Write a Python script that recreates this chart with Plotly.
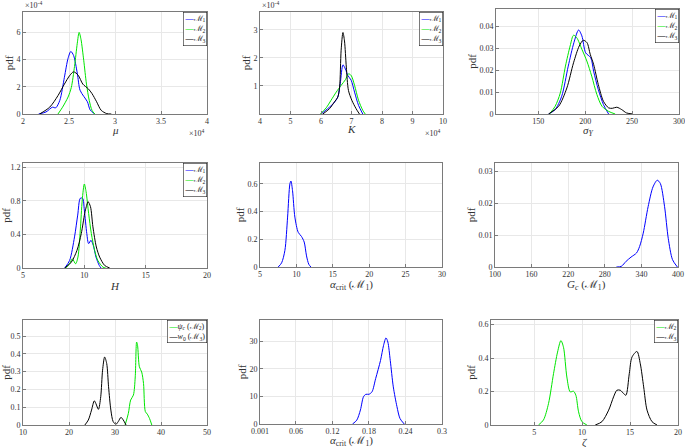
import plotly.graph_objects as go
from plotly.subplots import make_subplots

W, H = 685, 447
BLUE, GREEN, BLACK = "#0000ff", "#00e600", "#000000"
FONT = "Liberation Serif"

# ---------------- data ----------------
# Plot 1: mu (x in 1e4, y in 1e-4)
mu_m1_x = [2.17, 2.25, 2.32, 2.355, 2.40, 2.45, 2.49, 2.52, 2.55, 2.59, 2.62, 2.66, 2.70, 2.73, 2.78]
mu_m1_y = [0, 0.15, 0.5, 0.45, 1.0, 2.7, 4.1, 4.6, 4.3, 3.0, 1.75, 1.3, 0.9, 0.3, 0]
mu_m2_x = [2.38, 2.43, 2.49, 2.525, 2.56, 2.59, 2.61, 2.63, 2.66, 2.69, 2.72, 2.75, 2.78]
mu_m2_y = [0, 0.5, 1.25, 1.95, 3.5, 5.2, 6.0, 5.5, 3.95, 2.2, 1.0, 0.27, 0]
mu_m3_x = [2.18, 2.29, 2.38, 2.45, 2.51, 2.55, 2.60, 2.65, 2.71, 2.75, 2.80, 2.85, 2.91, 2.96]
mu_m3_y = [0, 0.5, 1.35, 2.2, 2.85, 3.1, 2.85, 2.2, 1.85, 1.5, 0.9, 0.27, 0.03, 0]

# Plot 2: K (x in 1e4, y in 1e-4)
k_m1_x = [6.0, 6.22, 6.42, 6.55, 6.63, 6.72, 6.80, 6.88, 6.99, 7.10, 7.23, 7.37]
k_m1_y = [0, 0.19, 0.39, 0.6, 1.08, 1.75, 1.6, 1.37, 1.2, 0.78, 0.31, 0]
k_m2_x = [5.98, 6.17, 6.33, 6.5, 6.66, 6.8, 6.9, 6.99, 7.1, 7.23, 7.37, 7.45]
k_m2_y = [0, 0.22, 0.49, 0.78, 1.02, 1.22, 1.43, 1.37, 1.02, 0.49, 0.13, 0]
k_m3_x = [6.06, 6.28, 6.44, 6.55, 6.61, 6.66, 6.72, 6.77, 6.83, 6.90, 7.01, 7.15, 7.26]
k_m3_y = [0, 0.19, 0.43, 0.6, 0.96, 2.27, 2.9, 2.6, 1.67, 0.84, 0.49, 0.19, 0]

# Plot 3: sigma_Y
sy_m1_x = [161, 168, 175, 182, 188, 193, 196.5, 200.5, 206, 209, 214, 219.5, 225]
sy_m1_y = [0, 0.002, 0.0081, 0.0219, 0.0326, 0.0384, 0.0357, 0.028, 0.0257, 0.0196, 0.0112, 0.0043, 0]
sy_m2_x = [162, 168, 173.5, 179, 184, 187.6, 191, 196.5, 201.8, 207, 212.5, 218, 225, 232]
sy_m2_y = [0, 0.0035, 0.0096, 0.0219, 0.0311, 0.036, 0.0349, 0.0296, 0.0242, 0.0173, 0.0089, 0.0035, 0.0012, 0]
sy_m3_x = [161, 171.7, 180.5, 187.6, 193.7, 198, 202, 205.4, 209, 214, 219.5, 225, 229, 233.7, 239, 244, 251]
sy_m3_y = [0, 0.0035, 0.0119, 0.0234, 0.0311, 0.0337, 0.0326, 0.0273, 0.0227, 0.0135, 0.0058, 0.0028, 0.0026, 0.0031, 0.002, 0.0005, 0]

# Plot 4: H
h_m1_x = [8.4, 8.8, 9.2, 9.46, 9.67, 9.86, 10.0, 10.2, 10.35, 10.54, 10.73, 10.95, 11.22, 11.36]
h_m1_y = [0, 0.09, 0.37, 0.63, 0.83, 0.83, 0.69, 0.41, 0.29, 0.33, 0.27, 0.13, 0.03, 0]
h_m2_x = [8.48, 8.8, 9.02, 9.29, 9.48, 9.67, 9.83, 10.0, 10.14, 10.35, 10.57, 10.84, 11.1, 11.52, 11.74]
h_m2_y = [0, 0.05, 0.11, 0.05, 0.13, 0.45, 0.81, 1.0, 0.91, 0.65, 0.41, 0.21, 0.09, 0.01, 0]
h_m3_x = [8.4, 8.94, 9.4, 9.75, 10.03, 10.16, 10.3, 10.5, 10.7, 10.98, 11.25, 11.66, 12.07]
h_m3_y = [0, 0.07, 0.21, 0.41, 0.65, 0.73, 0.79, 0.73, 0.49, 0.25, 0.13, 0.03, 0]

# Plot 5: alpha_crit (M1)
ac_x = [7.5, 7.97, 8.42, 8.79, 9.11, 9.25, 9.47, 9.79, 10.25, 10.7, 11.07, 11.39, 11.7, 11.99]
ac_y = [0, 0.03, 0.12, 0.36, 0.6, 0.62, 0.55, 0.36, 0.25, 0.22, 0.18, 0.08, 0.02, 0]

# Plot 6: G_c (M1)
gc_x = [299, 307, 315, 323, 332, 337, 343, 351, 359, 366, 371, 378, 384, 391, 399]
gc_y = [0, 0.0002, 0.0018, 0.0031, 0.0044, 0.0064, 0.0106, 0.0189, 0.0251, 0.0272, 0.0262, 0.0189, 0.009, 0.0023, 0]

# Plot 7: psi_c (M2), w0 (M3)
psi_x = [32.2, 32.9, 33.4, 34.0, 34.4, 34.7, 34.9, 35.3, 35.8, 36.2, 36.6, 37.0, 37.5, 38.0]
psi_y = [0, 0.065, 0.14, 0.168, 0.27, 0.466, 0.448, 0.327, 0.298, 0.233, 0.075, 0.062, 0.037, 0]
w0_x = [23.45, 24.2, 24.9, 25.5, 25.85, 26.4, 26.9, 27.3, 27.75, 28.2, 28.6, 29.1, 29.6, 30.2, 30.7, 31.3, 31.8, 32.4]
w0_y = [0, 0.028, 0.084, 0.136, 0.12, 0.088, 0.159, 0.308, 0.382, 0.345, 0.215, 0.084, 0.019, 0.004, 0.019, 0.043, 0.028, 0]

# Plot 8: alpha_crit (M1), second
ac2_x = [0.153, 0.160, 0.166, 0.171, 0.175, 0.180, 0.185, 0.191, 0.199, 0.204, 0.208, 0.211, 0.215, 0.220, 0.226, 0.231, 0.238]
ac2_y = [0, 1.4, 5.1, 9.9, 10.8, 10.8, 11.7, 16.5, 23.1, 28.6, 31.3, 29.8, 23.1, 13.5, 6.3, 2.0, 0]

# Plot 9: zeta
z_m2_x = [5.45, 5.97, 6.5, 7.02, 7.44, 7.79, 8.06, 8.41, 8.76, 9.1, 9.35, 9.63, 9.98, 10.5]
z_m2_y = [0, 0.03, 0.129, 0.307, 0.436, 0.505, 0.465, 0.287, 0.198, 0.202, 0.178, 0.079, 0.02, 0]
z_m3_x = [11.37, 12.07, 12.77, 13.28, 13.63, 13.98, 14.33, 14.57, 14.92, 15.2, 15.72, 16.07, 16.42, 16.77, 17.29, 17.81]
z_m3_y = [0, 0.02, 0.089, 0.168, 0.208, 0.208, 0.188, 0.178, 0.307, 0.406, 0.44, 0.366, 0.228, 0.089, 0.02, 0]

# ---------------- axis ticks ----------------
x1_ticks = [2, 2.5, 3, 3.5, 4]; y1_ticks = [0, 2, 4, 6]
x2_ticks = [4, 5, 6, 7, 8, 9, 10]; y2_ticks = [1, 2, 3]
x3_ticks = [150, 200, 250, 300]; y3_ticks = [0, 0.01, 0.02, 0.03, 0.04]
x4_ticks = [5, 10, 15, 20]; y4_ticks = [0, 0.4, 0.8, 1.2]
x5_ticks = [5, 10, 15, 20, 25, 30]; y5_ticks = [0, 0.2, 0.4, 0.6]
x6_ticks = [100, 160, 220, 280, 340, 400]; y6_ticks = [0, 0.01, 0.02, 0.03]
x7_ticks = [10, 20, 30, 40, 50]; y7_ticks = [0, 0.1, 0.2, 0.3, 0.4, 0.5]
x8_ticks = [0.001, 0.06, 0.12, 0.18, 0.24, 0.3]; y8_ticks = [0, 10, 20, 30]
x9_ticks = [5, 10, 15, 20]; y9_ticks = [0, 0.2, 0.4, 0.6]

M = "\u2133"
panels = [
    dict(traces=[(mu_m1_x, mu_m1_y, BLUE), (mu_m2_x, mu_m2_y, GREEN), (mu_m3_x, mu_m3_y, BLACK)],
         xr=[2, 4], yr=[0, 7.5], xt=x1_ticks, yt=y1_ticks, title="<i>\u03bc</i>", tshift=-16,
         box=(23, 207, 12, 114), legend=[(BLUE, M + "<sub>1</sub>"), (GREEN, M + "<sub>2</sub>"), (BLACK, M + "<sub>3</sub>")],
         exp=True),
    dict(traces=[(k_m1_x, k_m1_y, BLUE), (k_m2_x, k_m2_y, GREEN), (k_m3_x, k_m3_y, BLACK)],
         xr=[4, 10], yr=[0, 3.63], xt=x2_ticks, yt=y2_ticks, title="<i>K</i>", tshift=-15,
         box=(260, 443, 12, 114), legend=[(BLUE, M + "<sub>1</sub>"), (GREEN, M + "<sub>2</sub>"), (BLACK, M + "<sub>3</sub>")],
         exp=True),
    dict(traces=[(sy_m1_x, sy_m1_y, BLUE), (sy_m2_x, sy_m2_y, GREEN), (sy_m3_x, sy_m3_y, BLACK)],
         xr=[105, 300], yr=[0, 0.048], xt=x3_ticks, yt=y3_ticks, title="<i>\u03c3<sub>Y</sub></i>", tshift=-17,
         box=(496, 679, 9, 114), legend=[(BLUE, M + "<sub>1</sub>"), (GREEN, M + "<sub>2</sub>"), (BLACK, M + "<sub>3</sub>")]),
    dict(traces=[(h_m1_x, h_m1_y, BLUE), (h_m2_x, h_m2_y, GREEN), (h_m3_x, h_m3_y, BLACK)],
         xr=[5, 20], yr=[0, 1.25], xt=x4_ticks, yt=y4_ticks, title="<i>H</i>", tshift=-18,
         box=(23, 207, 163, 268), legend=[(BLUE, M + "<sub>1</sub>"), (GREEN, M + "<sub>2</sub>"), (BLACK, M + "<sub>3</sub>")]),
    dict(traces=[(ac_x, ac_y, BLUE)],
         xr=[5, 30], yr=[0, 0.75], xt=x5_ticks, yt=y5_ticks, tshift=-18,
         title="<i>\u03b1</i><sub>crit</sub> (" + M + "<sub>1</sub>)",
         box=(260, 442, 163, 267), legend=None),
    dict(traces=[(gc_x, gc_y, BLUE)],
         xr=[100, 400], yr=[0, 0.0326], xt=x6_ticks, yt=y6_ticks, tshift=-18,
         title="<i>G<sub>c</sub></i> (" + M + "<sub>1</sub>)",
         box=(495, 678, 163, 267), legend=None),
    dict(traces=[(psi_x, psi_y, GREEN), (w0_x, w0_y, BLACK)],
         xr=[10, 50], yr=[0, 0.59], xt=x7_ticks, yt=y7_ticks, title=None, tshift=-17,
         box=(23, 207, 320, 425),
         legend=[(GREEN, "<i>\u03c8<sub>c</sub></i> (" + M + "<sub>2</sub>)"), (BLACK, "<i>w</i><sub>0</sub> (" + M + "<sub>3</sub>)")]),
    dict(traces=[(ac2_x, ac2_y, BLUE)],
         xr=[0.001, 0.3], yr=[0, 37.8], xt=x8_ticks, yt=y8_ticks, tshift=-17,
         title="<i>\u03b1</i><sub>crit</sub> (" + M + "<sub>1</sub>)",
         box=(260, 442, 320, 424), legend=None),
    dict(traces=[(z_m2_x, z_m2_y, GREEN), (z_m3_x, z_m3_y, BLACK)],
         xr=[0.5, 20], yr=[0, 0.628], xt=x9_ticks, yt=y9_ticks, title="<i>\u03b6</i>", tshift=-17,
         box=(491, 678, 320, 425), legend=[(GREEN, M + "<sub>2</sub>"), (BLACK, M + "<sub>3</sub>")]),
]

fig = make_subplots(rows=3, cols=3)
annotations = []
TXT = "#333333"
for i, p in enumerate(panels):
    r, c = i // 3 + 1, i % 3 + 1
    for (xs, ys, col) in p["traces"]:
        fig.add_trace(go.Scatter(x=xs, y=ys, mode="lines", line=dict(color=col, width=1, shape="spline", smoothing=0.8),
                                 showlegend=False, hoverinfo="skip"), row=r, col=c)
    l, rr, t, b = p["box"]
    sfx = "" if i == 0 else str(i + 1)
    fig.layout["xaxis" + sfx].update(
        domain=[l / W, rr / W], range=p["xr"], tickvals=p["xt"], ticktext=[f"{v:g}" for v in p["xt"]],
        showline=True, mirror=True, linecolor="#7a7a7a", linewidth=1, showgrid=True, gridcolor="#e8e8e8",
        ticks="inside", ticklen=3, tickcolor="#7a7a7a", zeroline=False, automargin=False,
        ticklabelstandoff=-1,
        tickfont=dict(family=FONT, size=8, color=TXT))
    fig.layout["yaxis" + sfx].update(
        domain=[1 - b / H, 1 - t / H], range=p["yr"], tickvals=p["yt"], ticktext=[f"{v:g}" for v in p["yt"]],
        showline=True, mirror=True, linecolor="#7a7a7a", linewidth=1, showgrid=True, gridcolor="#e8e8e8",
        ticks="inside", ticklen=3, tickcolor="#7a7a7a", zeroline=False, automargin=False,
        tickfont=dict(family=FONT, size=8, color=TXT),
        title=dict(text="pdf", font=dict(family=FONT, size=11, color=TXT), standoff=0))
    xref = "x" + sfx + " domain"; yref = "y" + sfx + " domain"
    if p["title"]:
        annotations.append(dict(xref=xref, yref=yref, x=0.5, y=0, xanchor="center", yanchor="middle",
                                yshift=p["tshift"], showarrow=False, text=p["title"],
                                font=dict(family=FONT, size=11, color=TXT)))
    if p["legend"]:
        txt = "<br>".join(f"<span style='color:{col}'>\u2014</span>{lab}" for col, lab in p["legend"])
        annotations.append(dict(xref=xref, yref=yref, x=1, y=1, xanchor="right", yanchor="top", showarrow=False,
                                text=txt, align="left", bgcolor="white", bordercolor="#222", borderwidth=0.6,
                                borderpad=1, font=dict(family=FONT, size=8, color="#222")))
    if p.get("exp"):
        annotations.append(dict(xref=xref, yref=yref, x=0, y=1, xanchor="left", yanchor="bottom", yshift=0,
                                showarrow=False, text="\u00d710<sup>-4</sup>",
                                font=dict(family=FONT, size=8, color=TXT)))
        annotations.append(dict(xref=xref, yref=yref, x=1, y=0, xanchor="right", yanchor="middle", yshift=-19,
                                showarrow=False, text="\u00d710<sup>4</sup>",
                                font=dict(family=FONT, size=8, color=TXT)))

fig.update_layout(width=W, height=H, margin=dict(l=0, r=0, t=0, b=0),
                  paper_bgcolor="white", plot_bgcolor="white", annotations=annotations,
                  showlegend=False)
fig.write_html("out.html", config={"displayModeBar": False},
               post_script="document.body.style.margin='0';")
